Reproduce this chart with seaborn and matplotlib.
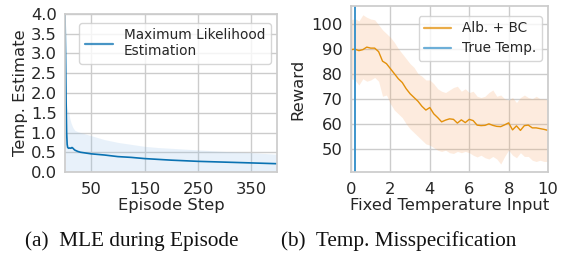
import numpy as np
import pandas as pd
import matplotlib.pyplot as plt
import seaborn as sns

# ---- data ----
# (a) MLE of the temperature during an episode
ep_step = [1, 2, 3, 4, 5, 6, 8, 10, 12, 14, 16, 18, 20, 25, 30, 40, 50, 75,
           100, 125, 150, 175, 200, 250, 300, 350, 398]
mle_mean = [4.0, 3.0, 1.8, 1.0, 0.7, 0.62, 0.6, 0.61, 0.6, 0.62, 0.6, 0.57,
            0.55, 0.52, 0.5, 0.48, 0.46, 0.43, 0.39, 0.37, 0.34, 0.32, 0.3,
            0.27, 0.25, 0.23, 0.21]
mle_upper = [4.0, 3.2, 2.2, 1.7, 1.6, 1.55, 1.5, 1.35, 1.25, 1.18, 1.12, 1.08,
             1.05, 1.02, 1.0, 0.96, 0.92, 0.82, 0.75, 0.7, 0.65, 0.62, 0.6,
             0.56, 0.52, 0.49, 0.45]
mle_lower = [0.02] * len(ep_step)

# (b) reward vs fixed temperature input
temp_input = [round(0.2 * i, 1) for i in range(51)]
reward_mean = [89.6, 89.8, 89.2, 89.6, 90.6, 90.2, 90.2, 88.8, 85.0, 84.0,
               82.0, 80.0, 78.0, 76.5, 74.0, 72.0, 70.5, 69.0, 67.0, 65.5,
               66.5, 64.0, 62.5, 60.8, 61.5, 62.0, 61.8, 60.3, 61.6, 60.5,
               61.8, 61.3, 59.5, 59.3, 59.4, 60.0, 59.4, 59.0, 58.9, 59.6,
               60.4, 57.6, 59.2, 57.4, 59.3, 59.5, 58.4, 58.4, 58.1, 57.8,
               57.4]
reward_upper = [101.5, 102.0, 101.0, 103.5, 102.5, 101.8, 101.5, 99.5, 97.5,
                96.0, 94.5, 92.5, 90.0, 88.0, 86.0, 84.0, 82.5, 80.0, 79.0,
                77.5, 77.5, 76.0, 74.0, 73.0, 72.5, 73.5, 74.5, 75.0, 73.0,
                74.0, 72.5, 73.0, 71.0, 70.5, 71.0, 72.5, 73.5, 71.0, 71.5,
                70.0, 69.5, 70.5, 68.5, 70.5, 71.5, 70.5, 70.0, 71.0, 70.0,
                70.0, 69.5]
reward_lower = [78.0, 77.5, 75.5, 78.0, 77.0, 77.5, 78.5, 77.0, 71.0, 71.5,
                68.0, 65.5, 64.0, 62.5, 60.0, 58.0, 56.5, 55.0, 53.5, 52.0,
                51.5, 50.5, 49.5, 49.0, 49.5, 48.5, 48.2, 49.0, 48.5, 49.0,
                48.5, 47.5, 46.8, 47.5, 46.5, 46.0, 47.0, 46.0, 44.0, 47.0,
                49.5, 47.5, 46.5, 48.5, 47.0, 47.0, 45.5, 45.0, 45.5, 45.0,
                45.0]
true_temp = 0.2

sns.set_theme(style='whitegrid')
plt.rcParams['font.family'] = ['DejaVu Sans']
plt.rcParams['xtick.major.size'] = 0
plt.rcParams['ytick.major.size'] = 0
plt.rcParams['xtick.major.pad'] = 7
plt.rcParams['ytick.major.pad'] = 6

fig = plt.figure(figsize=(5.62, 2.54), dpi=100)
ax1 = fig.add_axes([0.1157, 0.3228, 0.3772, 0.6221])
ax2 = fig.add_axes([0.6246, 0.3228, 0.3505, 0.6536])

blue = '#0a72b2'
orange = '#e3900a'
tick_fs = 11.8
label_fs = 11.8

# 左图：MLE
df_a = pd.DataFrame({'step': ep_step, 'mle': mle_mean})
sns.lineplot(data=df_a, x='step', y='mle', ax=ax1, color=blue, lw=1.2,
             label='Maximum Likelihood\nEstimation')
ax1.fill_between(ep_step, mle_lower, mle_upper, color='#8fbde8', alpha=0.2,
                 lw=0)
ax1.set_xlim(1, 398)
ax1.set_ylim(0, 4)
ax1.set_xticks([50, 150, 250, 350])
ax1.set_yticks(np.arange(0, 4.01, 0.5))
ax1.set_xlabel('Episode Step', fontsize=label_fs, labelpad=1)
ax1.set_ylabel('Temp. Estimate', fontsize=label_fs, labelpad=2)
ax1.tick_params(labelsize=tick_fs)
leg1 = ax1.legend(loc='upper right', fontsize=9.8, handlelength=2.1,
                  handletextpad=0.8, borderaxespad=0.3,
                  bbox_to_anchor=(0.99, 0.97))

# 右图：温度设定错误
df_b = pd.DataFrame({'temp': temp_input, 'reward': reward_mean})
ax2.fill_between(temp_input, reward_lower, reward_upper, color='#f7a86a',
                 alpha=0.22, lw=0)
sns.lineplot(data=df_b, x='temp', y='reward', ax=ax2, color=orange, lw=1.0,
             label='Alb. + BC')
ax2.axvline(true_temp, color='#3d95cc', lw=1.4, label='True Temp.')
ax2.set_xlim(0, 10)
ax2.set_ylim(40.8, 107)
ax2.set_xticks(range(0, 11, 2))
ax2.set_yticks(range(50, 101, 10))
ax2.set_xlabel('Fixed Temperature Input', fontsize=label_fs, labelpad=1)
ax2.set_ylabel('Reward', fontsize=label_fs, labelpad=4)
ax2.tick_params(labelsize=tick_fs)
leg2 = ax2.legend(loc='upper right', fontsize=9.8, handlelength=2.0,
                  handletextpad=0.8, labelspacing=0.45, borderaxespad=0.3,
                  bbox_to_anchor=(0.99, 0.965))

# 图例线条稍浅稍粗
for leg in (leg1, leg2):
    for ln in leg.get_lines():
        ln.set_linewidth(1.6)
        ln.set_alpha(0.75)

for ax in (ax1, ax2):
    for s in ax.spines.values():
        s.set_color('#cccccc')

# 子图标题
fig.text(0.234, 0.05, '(a)  MLE during Episode', family='Liberation Serif',
         fontsize=15.3, ha='center', va='center', color='#111111')
fig.text(0.709, 0.05, '(b)  Temp. Misspecification',
         family='Liberation Serif', fontsize=15.3, ha='center', va='center',
         color='#111111')

fig.savefig('out.png', dpi=100)
